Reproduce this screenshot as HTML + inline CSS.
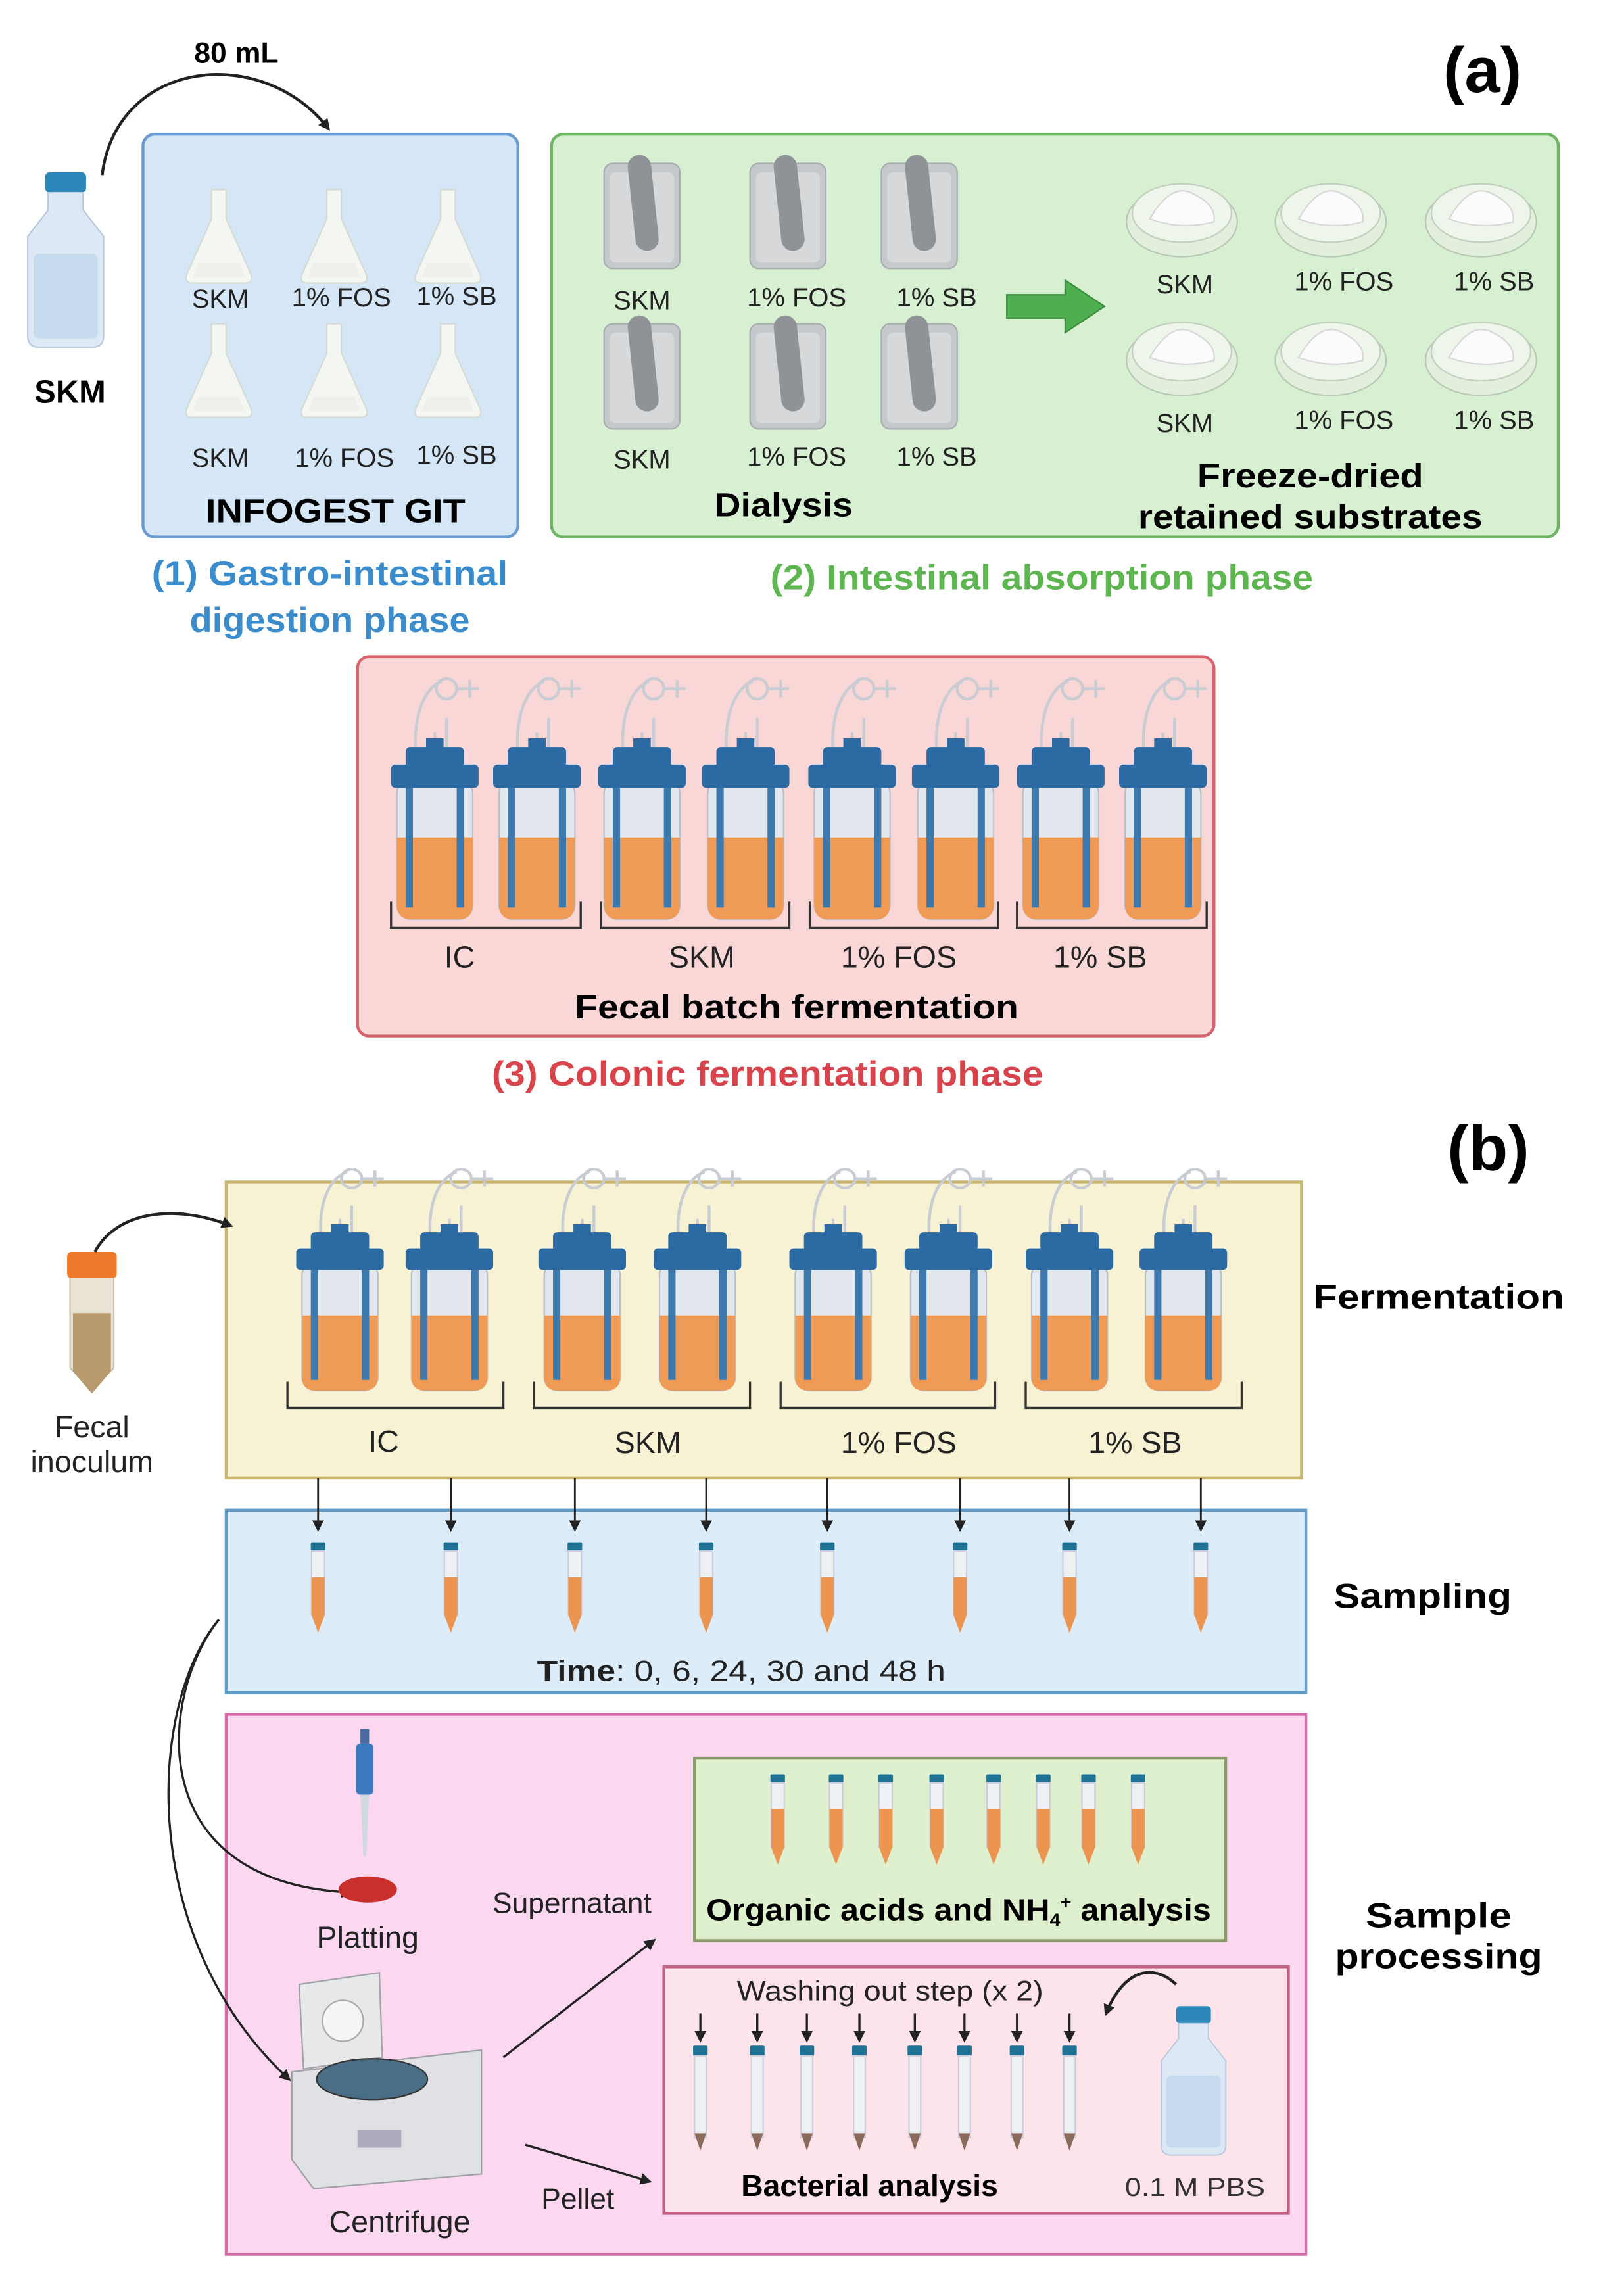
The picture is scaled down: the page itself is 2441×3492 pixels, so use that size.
<!DOCTYPE html>
<html><head><meta charset="utf-8"><style>
html,body{margin:0;padding:0;background:#fff;}
svg{display:block;}
text{font-family:"Liberation Sans",sans-serif;}
</style></head><body>
<svg width="2441" height="3492" viewBox="0 0 1100 1573.6" preserveAspectRatio="none" xmlns="http://www.w3.org/2000/svg">
<defs>
<marker id="ah" markerWidth="8" markerHeight="8" refX="6" refY="4" orient="auto" markerUnits="userSpaceOnUse"><path d="M0,0 L8,4 L0,8 Z" fill="#222"/></marker>
<g id="ferm">
 <path d="M-8,30 C-20,-10 -10,-40 5,-45 M8,30 L8,-20 M0,30 L0,-10" stroke="#c9ccd2" stroke-width="2" fill="none"/>
 <circle cx="8" cy="-40" r="7" fill="none" stroke="#c9ccd2" stroke-width="2"/>
 <path d="M14,-40 L30,-40 M24,-46 L24,-34" stroke="#c9ccd2" stroke-width="2"/>
 <rect x="-26" y="22" width="52" height="96" rx="10" fill="#e3e8ee" stroke="#b8c0ca"/>
 <path d="M-26,62 L26,62 L26,108 Q26,118 16,118 L-16,118 Q-26,118 -26,108 Z" fill="#ef9a55"/>
 <rect x="-20" y="25" width="5" height="85" fill="#3d79ad"/>
 <rect x="15" y="25" width="5" height="85" fill="#3d79ad"/>
 <rect x="-30" y="12" width="60" height="16" rx="3" fill="#2c6aa3"/>
 <rect x="-20" y="0" width="40" height="14" rx="3" fill="#2c6aa3"/>
 <rect x="-6" y="-6" width="12" height="8" fill="#2c6aa3"/>
</g>
<g id="tube">
 <rect x="-5" y="0" width="10" height="6" rx="1" fill="#1e7394"/>
 <rect x="-4.5" y="6" width="9" height="44" fill="#eef1f4" stroke="#ccd"/>
 <path d="M-4.5,24 L4.5,24 L4.5,50 L0,62 L-4.5,50 Z" fill="#ec9550"/>
</g>
<g id="wtube">
 <rect x="-5" y="0" width="10" height="7" rx="1" fill="#1e7394"/>
 <rect x="-4" y="7" width="8" height="56" fill="#eef1f4" stroke="#ccd"/>
 <path d="M-4,60 L4,60 L0,72 Z" fill="#8a6a5a"/>
</g>
<g id="flask">
 <path d="M-5,0 L5,0 L5,20 L22,58 Q24,64 18,64 L-18,64 Q-24,64 -22,58 L-5,20 Z" fill="#f4f6f2" stroke="#d5dbd5"/>
 <path d="M-14,50 L14,50 L18,60 L-18,60 Z" fill="#eef0ea"/>
</g>
<g id="beaker">
 <rect x="-26" y="0" width="52" height="72" rx="6" fill="#c6c9cc" stroke="#a9adb1"/>
 <rect x="-22" y="6" width="44" height="62" rx="4" fill="#d6d8da"/>
 <rect x="-10" y="-6" width="16" height="66" rx="8" fill="#8f9398" transform="rotate(-6)"/>
</g>
<g id="dish">
 <ellipse cx="0" cy="12" rx="38" ry="24" fill="#e2efdc" stroke="#b9c8b4"/>
 <ellipse cx="0" cy="6" rx="34" ry="20" fill="#eef5ea" stroke="#c3d0be"/>
 <path d="M-22,10 Q-8,-14 6,-8 Q24,0 22,12 Q0,18 -22,10 Z" fill="#fbfbfb" stroke="#d8d8d8"/>
</g>
<g id="bottle">
 <rect x="-14" y="0" width="28" height="14" rx="3" fill="#2a87b8"/>
 <path d="M-12,14 L12,14 L12,26 L26,44 L26,112 Q26,120 18,120 L-18,120 Q-26,120 -26,112 L-26,44 L-12,26 Z" fill="#dce8f4" stroke="#b7c9dc"/>
 <rect x="-22" y="56" width="44" height="58" rx="4" fill="#c7dbef"/>
</g>
</defs>

<!-- (a) -->
<text x="1016" y="63" font-size="44" font-weight="bold" text-anchor="middle">(a)</text>
<text x="162" y="43" font-size="20" font-weight="bold" text-anchor="middle">80 mL</text>
<path d="M70,120 C80,40 180,30 225,88" stroke="#222" stroke-width="2" fill="none" marker-end="url(#ah)"/>
<use href="#bottle" x="45" y="118"/>
<text x="48" y="276" font-size="22" font-weight="bold" text-anchor="middle">SKM</text>

<rect x="98" y="92" width="257" height="276" rx="8" fill="#d5e6f6" stroke="#6a9bd0" stroke-width="2"/>
<use href="#flask" x="150" y="130"/><use href="#flask" x="229" y="130"/><use href="#flask" x="307" y="130"/>
<use href="#flask" x="150" y="222"/><use href="#flask" x="229" y="222"/><use href="#flask" x="307" y="222"/>
<g font-size="18" text-anchor="middle" fill="#222">
<text x="151" y="211">SKM</text><text x="234" y="210">1% FOS</text><text x="313" y="209">1% SB</text>
<text x="151" y="320">SKM</text><text x="236" y="320">1% FOS</text><text x="313" y="318">1% SB</text>
</g>
<text x="230" y="358" font-size="23" font-weight="bold" text-anchor="middle" textLength="178" lengthAdjust="spacingAndGlyphs">INFOGEST GIT</text>
<g fill="#3a8ccd" font-size="24" font-weight="bold" text-anchor="middle">
<text x="226" y="401" textLength="244" lengthAdjust="spacingAndGlyphs">(1) Gastro-intestinal</text>
<text x="226" y="433" textLength="192" lengthAdjust="spacingAndGlyphs">digestion phase</text>
</g>

<rect x="378" y="92" width="690" height="276" rx="8" fill="#d8f0d2" stroke="#70b563" stroke-width="2"/>
<use href="#beaker" x="440" y="112"/><use href="#beaker" x="540" y="112"/><use href="#beaker" x="630" y="112"/>
<use href="#beaker" x="440" y="222"/><use href="#beaker" x="540" y="222"/><use href="#beaker" x="630" y="222"/>
<g font-size="18" text-anchor="middle" fill="#222">
<text x="440" y="212">SKM</text><text x="546" y="210">1% FOS</text><text x="642" y="210">1% SB</text>
<text x="440" y="321">SKM</text><text x="546" y="319">1% FOS</text><text x="642" y="319">1% SB</text>
<text x="812" y="201">SKM</text><text x="921" y="199">1% FOS</text><text x="1024" y="199">1% SB</text>
<text x="812" y="296">SKM</text><text x="921" y="294">1% FOS</text><text x="1024" y="294">1% SB</text>
</g>
<path d="M690,202 L730,202 L730,192 L757,210 L730,228 L730,218 L690,218 Z" fill="#4fae4f" stroke="#3b8e3b"/>
<use href="#dish" x="810" y="140"/><use href="#dish" x="912" y="140"/><use href="#dish" x="1015" y="140"/>
<use href="#dish" x="810" y="235"/><use href="#dish" x="912" y="235"/><use href="#dish" x="1015" y="235"/>
<text x="537" y="354" font-size="23" font-weight="bold" text-anchor="middle" textLength="95" lengthAdjust="spacingAndGlyphs">Dialysis</text>
<text x="898" y="334" font-size="23" font-weight="bold" text-anchor="middle" textLength="155" lengthAdjust="spacingAndGlyphs">Freeze-dried</text>
<text x="898" y="362" font-size="23" font-weight="bold" text-anchor="middle" textLength="236" lengthAdjust="spacingAndGlyphs">retained substrates</text>
<text x="714" y="404" font-size="24" font-weight="bold" text-anchor="middle" fill="#5db64f" textLength="372" lengthAdjust="spacingAndGlyphs">(2) Intestinal absorption phase</text>

<rect x="245" y="450" width="587" height="260" rx="8" fill="#f9d7d7" stroke="#d7646d" stroke-width="2"/>
<use href="#ferm" x="298" y="512"/><use href="#ferm" x="368" y="512"/><use href="#ferm" x="440" y="512"/><use href="#ferm" x="511" y="512"/>
<use href="#ferm" x="584" y="512"/><use href="#ferm" x="655" y="512"/><use href="#ferm" x="727" y="512"/><use href="#ferm" x="797" y="512"/>
<g stroke="#333" stroke-width="1.5" fill="none">
<path d="M268,618 L268,636 L398,636 L398,618"/><path d="M412,618 L412,636 L541,636 L541,618"/>
<path d="M555,618 L555,636 L684,636 L684,618"/><path d="M697,618 L697,636 L827,636 L827,618"/>
</g>
<g font-size="21" text-anchor="middle" fill="#222">
<text x="315" y="663">IC</text><text x="481" y="663">SKM</text><text x="616" y="663">1% FOS</text><text x="754" y="663">1% SB</text>
</g>
<text x="546" y="698" font-size="23" font-weight="bold" text-anchor="middle" textLength="304" lengthAdjust="spacingAndGlyphs">Fecal batch fermentation</text>
<text x="526" y="744" font-size="24" font-weight="bold" text-anchor="middle" fill="#d8434c" textLength="378" lengthAdjust="spacingAndGlyphs">(3) Colonic fermentation phase</text>

<!-- (b) -->
<text x="1020" y="802" font-size="44" font-weight="bold" text-anchor="middle">(b)</text>
<rect x="155" y="810" width="737" height="203" fill="#f7f2d3" stroke="#c9b772" stroke-width="2"/>
<g transform="scale(1,0.92)">
<use href="#ferm" x="233" y="918"/><use href="#ferm" x="308" y="918"/><use href="#ferm" x="399" y="918"/><use href="#ferm" x="478" y="918"/>
<use href="#ferm" x="571" y="918"/><use href="#ferm" x="650" y="918"/><use href="#ferm" x="733" y="918"/><use href="#ferm" x="811" y="918"/>
</g>
<g stroke="#333" stroke-width="1.5" fill="none">
<path d="M197,947 L197,965 L345,965 L345,947"/><path d="M366,947 L366,965 L514,965 L514,947"/>
<path d="M535,947 L535,965 L682,965 L682,947"/><path d="M703,947 L703,965 L851,965 L851,947"/>
</g>
<g font-size="21" text-anchor="middle" fill="#222">
<text x="263" y="995">IC</text><text x="444" y="996">SKM</text><text x="616" y="996">1% FOS</text><text x="778" y="996">1% SB</text>
</g>
<text x="986" y="897" font-size="24" font-weight="bold" text-anchor="middle" textLength="172" lengthAdjust="spacingAndGlyphs">Fermentation</text>
<rect x="48" y="870" width="30" height="70" rx="4" fill="#e9e3d6" stroke="#c8c0b0"/>
<path d="M50,900 L76,900 L76,940 L63,955 L50,940 Z" fill="#b89a6c"/>
<rect x="46" y="858" width="34" height="18" rx="3" fill="#ec7a2a"/>
<text x="63" y="985" font-size="21" text-anchor="middle" fill="#222">Fecal</text>
<text x="63" y="1009" font-size="21" text-anchor="middle" fill="#222">inoculum</text>
<path d="M65,858 C80,830 120,825 158,840" stroke="#222" stroke-width="2" fill="none" marker-end="url(#ah)"/>

<rect x="155" y="1035" width="740" height="125" fill="#dcecf9" stroke="#5f9bc9" stroke-width="2"/>
<g stroke="#222" stroke-width="1.3">
<line x1="218" y1="1013" x2="218" y2="1048" marker-end="url(#ah)"/><line x1="309" y1="1013" x2="309" y2="1048" marker-end="url(#ah)"/>
<line x1="394" y1="1013" x2="394" y2="1048" marker-end="url(#ah)"/><line x1="484" y1="1013" x2="484" y2="1048" marker-end="url(#ah)"/>
<line x1="567" y1="1013" x2="567" y2="1048" marker-end="url(#ah)"/><line x1="658" y1="1013" x2="658" y2="1048" marker-end="url(#ah)"/>
<line x1="733" y1="1013" x2="733" y2="1048" marker-end="url(#ah)"/><line x1="823" y1="1013" x2="823" y2="1048" marker-end="url(#ah)"/>
</g>
<use href="#tube" x="218" y="1057"/><use href="#tube" x="309" y="1057"/><use href="#tube" x="394" y="1057"/><use href="#tube" x="484" y="1057"/>
<use href="#tube" x="567" y="1057"/><use href="#tube" x="658" y="1057"/><use href="#tube" x="733" y="1057"/><use href="#tube" x="823" y="1057"/>
<text x="508" y="1152" font-size="20" text-anchor="middle" fill="#222" textLength="280" lengthAdjust="spacingAndGlyphs"><tspan font-weight="bold">Time</tspan>: 0, 6, 24, 30 and 48 h</text>
<text x="975" y="1102" font-size="24" font-weight="bold" text-anchor="middle" textLength="122" lengthAdjust="spacingAndGlyphs">Sampling</text>

<rect x="155" y="1175" width="740" height="370" fill="#fbd8ef" stroke="#d16ba6" stroke-width="2"/>
<text x="986" y="1321" font-size="24" font-weight="bold" text-anchor="middle" textLength="100" lengthAdjust="spacingAndGlyphs">Sample</text>
<text x="986" y="1349" font-size="24" font-weight="bold" text-anchor="middle" textLength="142" lengthAdjust="spacingAndGlyphs">processing</text>
<path d="M150,1110 C110,1160 95,1290 240,1297" stroke="#222" stroke-width="1.5" fill="none" marker-end="url(#ah)"/>
<path d="M150,1110 C100,1170 95,1330 198,1425" stroke="#222" stroke-width="1.5" fill="none" marker-end="url(#ah)"/>
<rect x="247" y="1185" width="6" height="10" fill="#4a6aa0"/>
<rect x="244" y="1195" width="12" height="35" rx="3" fill="#3a78c0"/>
<path d="M247,1230 L253,1230 L251,1272 L249,1272 Z" fill="#d0d8e0"/>
<ellipse cx="252" cy="1295" rx="20" ry="9" fill="#c9302c"/>
<text x="252" y="1335" font-size="21" text-anchor="middle" fill="#222">Platting</text>
<path d="M205,1360 L260,1352 L262,1410 L208,1418 Z" fill="#e6e8ea" stroke="#a0a4a8"/>
<circle cx="235" cy="1385" r="14" fill="#f5f5f5" stroke="#aaa"/>
<path d="M200,1420 L330,1405 L330,1490 L215,1500 L200,1480 Z" fill="#dfe1e4" stroke="#9ea2a6"/>
<ellipse cx="255" cy="1425" rx="38" ry="14" fill="#4a6e86" stroke="#333"/>
<rect x="245" y="1460" width="30" height="12" fill="#aab"/>
<text x="274" y="1530" font-size="21" text-anchor="middle" fill="#222">Centrifuge</text>
<text x="392" y="1311" font-size="20" text-anchor="middle" fill="#222">Supernatant</text>
<text x="396" y="1514" font-size="20" text-anchor="middle" fill="#222">Pellet</text>
<line x1="345" y1="1410" x2="448" y2="1330" stroke="#222" stroke-width="1.5" marker-end="url(#ah)"/>
<line x1="360" y1="1470" x2="445" y2="1495" stroke="#222" stroke-width="1.5" marker-end="url(#ah)"/>

<rect x="476" y="1205" width="364" height="125" fill="#dff0cf" stroke="#8a9a6a" stroke-width="2"/>
<use href="#tube" x="533" y="1216"/><use href="#tube" x="573" y="1216"/><use href="#tube" x="607" y="1216"/><use href="#tube" x="642" y="1216"/>
<use href="#tube" x="681" y="1216"/><use href="#tube" x="715" y="1216"/><use href="#tube" x="746" y="1216"/><use href="#tube" x="780" y="1216"/>
<text x="657" y="1316" font-size="21" font-weight="bold" text-anchor="middle" textLength="346" lengthAdjust="spacingAndGlyphs">Organic acids and NH<tspan font-size="12" dy="4">4</tspan><tspan font-size="12" dy="-12">+</tspan><tspan dy="8"> analysis</tspan></text>

<rect x="455" y="1348" width="428" height="169" fill="#fde3ea" stroke="#c25f80" stroke-width="2"/>
<text x="610" y="1371" font-size="19" text-anchor="middle" fill="#222" textLength="210" lengthAdjust="spacingAndGlyphs">Washing out step (x 2)</text>
<g stroke="#222" stroke-width="1.5">
<line x1="480" y1="1380" x2="480" y2="1398" marker-end="url(#ah)"/><line x1="519" y1="1380" x2="519" y2="1398" marker-end="url(#ah)"/>
<line x1="553" y1="1380" x2="553" y2="1398" marker-end="url(#ah)"/><line x1="589" y1="1380" x2="589" y2="1398" marker-end="url(#ah)"/>
<line x1="627" y1="1380" x2="627" y2="1398" marker-end="url(#ah)"/><line x1="661" y1="1380" x2="661" y2="1398" marker-end="url(#ah)"/>
<line x1="697" y1="1380" x2="697" y2="1398" marker-end="url(#ah)"/><line x1="733" y1="1380" x2="733" y2="1398" marker-end="url(#ah)"/>
</g>
<use href="#wtube" x="480" y="1402"/><use href="#wtube" x="519" y="1402"/><use href="#wtube" x="553" y="1402"/><use href="#wtube" x="589" y="1402"/>
<use href="#wtube" x="627" y="1402"/><use href="#wtube" x="661" y="1402"/><use href="#wtube" x="697" y="1402"/><use href="#wtube" x="733" y="1402"/>
<path d="M806,1360 C790,1345 770,1350 758,1380" stroke="#222" stroke-width="2" fill="none" marker-end="url(#ah)"/>
<g transform="translate(818,1375) scale(0.85)"><use href="#bottle"/></g>
<text x="596" y="1505" font-size="21" font-weight="bold" text-anchor="middle" textLength="176" lengthAdjust="spacingAndGlyphs">Bacterial analysis</text>
<text x="819" y="1505" font-size="18" text-anchor="middle" fill="#333" textLength="96" lengthAdjust="spacingAndGlyphs">0.1 M PBS</text>
</svg>
</body></html>
